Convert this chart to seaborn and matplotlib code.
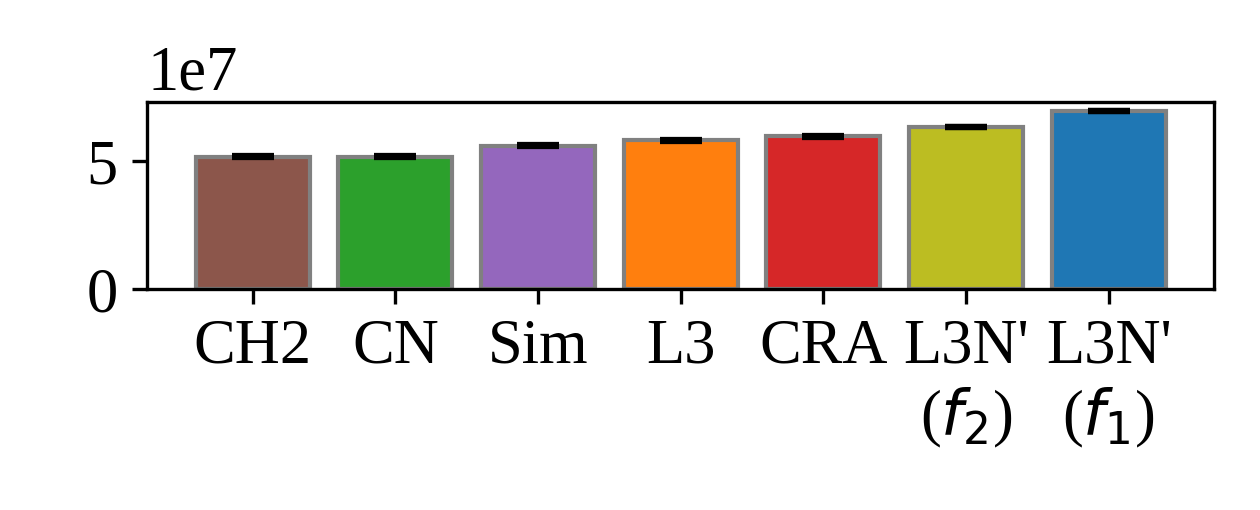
import numpy as np
import pandas as pd
import matplotlib
matplotlib.use('Agg')
import matplotlib.pyplot as plt
import seaborn as sns

## ============================================================

methods = ['CH2', 'CN', 'Sim', 'L3', 'CRA', "L3N'\n($f_2$)", "L3N'\n($f_1$)"]
scores = [5.19e7, 5.19e7, 5.62e7, 5.82e7, 5.98e7, 6.35e7, 6.97e7]
errors = [8e4, 8e4, 8e4, 8e4, 8e4, 8e4, 8e4]
colors = ['#8c564b', '#2ca02c', '#9467bd', '#ff7f0e', '#d62728', '#bcbd22', '#1f77b4']

## ============================================================

sns.set_style('ticks')
plt.rcParams['font.family'] = ['Liberation Serif']
plt.rcParams['font.size'] = 15
plt.rcParams['text.color'] = 'black'
plt.rcParams['xtick.color'] = 'black'
plt.rcParams['ytick.color'] = 'black'
plt.rcParams['axes.labelcolor'] = 'black'

df = pd.DataFrame({'method': methods, 'score': scores, 'err': errors})

fig = plt.figure(figsize=(4.2, 1.7), dpi=300)
ax = fig.add_axes([0.1167, 0.433, 0.847, 0.367])
sns.barplot(data=df, x='method', y='score', hue='method', palette=colors,
            edgecolor='gray', linewidth=1., width=0.8, saturation=1.,
            errorbar=None, legend=False, ax=ax)
ax.errorbar(np.arange(len(methods)), df['score'], yerr=df['err'], fmt='none',
            ecolor='black', capsize=5, elinewidth=1.5, capthick=1.5)
ax.set_xlabel('')
ax.set_ylabel('')
ax.ticklabel_format(axis='y', style='sci', scilimits=(0, 0))
for sp in ax.spines.values():
	sp.set_linewidth(0.8)
	sp.set_color('black')
ax.tick_params(axis='both', labelsize=15, length=3.5, width=0.8, color='black', labelcolor='black')
ax.yaxis.get_offset_text().set_fontsize(15)
ax.yaxis.get_offset_text().set_color('black')
fig.savefig('out.png', dpi=300)
